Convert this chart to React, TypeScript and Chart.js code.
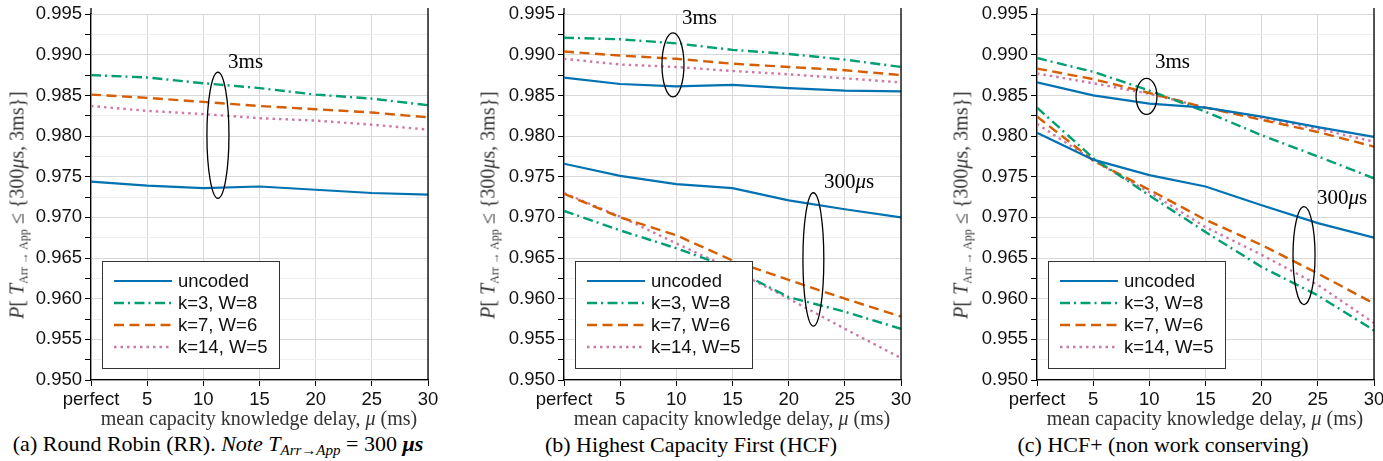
import React, { useEffect, useRef } from "react";
import { Chart, registerables } from "chart.js";
Chart.register(...registerables);

// ---------- data ----------
const delays = [0, 5, 10, 15, 20, 25, 30];
const seriesNames = ["uncoded", "k=3, W=8", "k=7, W=6", "k=14, W=5"];
const seriesColors = ["#0072B2", "#009E73", "#D55E00", "#CC79A7"];
const seriesDashes: number[][] = [[], [10, 4, 2, 4.5], [10, 5.5], [2.5, 4]];

// (a) Round Robin, 3ms
const rrUncoded = [0.9744, 0.9739, 0.9736, 0.9738, 0.9734, 0.973, 0.9728];
const rrK3 = [0.9875, 0.9872, 0.9865, 0.9859, 0.9851, 0.9846, 0.9838];
const rrK7 = [0.9851, 0.9847, 0.9842, 0.9837, 0.9833, 0.9829, 0.9823];
const rrK14 = [0.9837, 0.9831, 0.9827, 0.9822, 0.9819, 0.9814, 0.9808];

// (b) HCF, 3ms
const hcf3Uncoded = [0.9872, 0.9864, 0.9861, 0.9863, 0.9859, 0.9856, 0.9855];
const hcf3K3 = [0.9921, 0.9919, 0.9914, 0.9906, 0.9901, 0.9894, 0.9885];
const hcf3K7 = [0.9904, 0.9899, 0.9895, 0.9889, 0.9885, 0.9881, 0.9875];
const hcf3K14 = [0.9895, 0.9888, 0.9885, 0.988, 0.9876, 0.9871, 0.9866];
// (b) HCF, 300us
const hcf300Uncoded = [0.9766, 0.9751, 0.9741, 0.9736, 0.9721, 0.971, 0.97];
const hcf300K3 = [0.9708, 0.9684, 0.9662, 0.9637, 0.9602, 0.9584, 0.9563];
const hcf300K7 = [0.9729, 0.97, 0.9678, 0.9647, 0.9623, 0.96, 0.9578];
const hcf300K14 = [0.973, 0.9701, 0.9668, 0.9636, 0.96, 0.9563, 0.9527];

// (c) HCF+, 3ms
const hcfp3Uncoded = [0.9866, 0.985, 0.984, 0.9835, 0.9824, 0.9811, 0.9799];
const hcfp3K3 = [0.9896, 0.9879, 0.9856, 0.983, 0.9801, 0.9775, 0.9748];
const hcfp3K7 = [0.9883, 0.987, 0.9853, 0.9835, 0.982, 0.9805, 0.9787];
const hcfp3K14 = [0.9877, 0.9865, 0.9852, 0.9835, 0.9822, 0.9809, 0.9793];
// (c) HCF+, 300us
const hcfp300Uncoded = [0.9804, 0.9771, 0.9752, 0.9738, 0.9715, 0.9693, 0.9675];
const hcfp300K3 = [0.9835, 0.9773, 0.9727, 0.9682, 0.9639, 0.9604, 0.9561];
const hcfp300K7 = [0.9824, 0.977, 0.9734, 0.9697, 0.9666, 0.9631, 0.9594];
const hcfp300K14 = [0.9815, 0.977, 0.9731, 0.9688, 0.9654, 0.9617, 0.957];

// annotations (data coordinates)
type Ell = { x: number; y: number; rx: number; ry: number };
type Note = { x: number; y: number; text: string };
const rrEllipses: Ell[] = [{ x: 11.3, y: 0.9801, rx: 0.98, ry: 0.00775 }];
const rrNotes: Note[] = [{ x: 12.2, y: 0.989, text: "3ms" }];
const hcfEllipses: Ell[] = [
  { x: 9.7, y: 0.98876, rx: 0.98, ry: 0.00394 },
  { x: 22.2, y: 0.96483, rx: 0.93, ry: 0.0082 },
];
const hcfNotes: Note[] = [
  { x: 10.5, y: 0.9945, text: "3ms" },
  { x: 23.15, y: 0.97434, text: "300μs" },
];
const hcfpEllipses: Ell[] = [
  { x: 9.75, y: 0.98488, rx: 0.93, ry: 0.00221 },
  { x: 23.77, y: 0.9653, rx: 0.98, ry: 0.00603 },
];
const hcfpNotes: Note[] = [
  { x: 10.5, y: 0.989, text: "3ms" },
  { x: 24.93, y: 0.97237, text: "300μs" },
];

const SANS = "'Liberation Sans', Arial, sans-serif";
const SERIF = "'Liberation Serif', 'Times New Roman', serif";
const CANVAS_W = 460;
const PLOT_W = 428; // axis-left offset 91 + plot width 337

function makeDatasets(groups: number[][][]) {
  const ds: any[] = [];
  groups.forEach((group) => {
    group.forEach((vals, i) => {
      ds.push({
        label: seriesNames[i],
        data: delays.map((d, j) => ({ x: d, y: vals[j] })),
        borderColor: seriesColors[i],
        borderDash: seriesDashes[i],
        borderWidth: i === 0 ? 2.2 : 2.4,
        pointRadius: 0,
        tension: 0,
        fill: false,
        borderCapStyle: "butt",
      });
    });
  });
  return ds;
}

function drawNoteText(ctx: CanvasRenderingContext2D, text: string, x: number, y: number) {
  ctx.textBaseline = "middle";
  ctx.textAlign = "left";
  ctx.fillStyle = "#000";
  let cx = x;
  for (const ch of text) {
    ctx.font = ch === "μ" ? `italic 21px ${SERIF}` : `21px ${SERIF}`;
    ctx.fillText(ch, cx, y);
    cx += ctx.measureText(ch).width;
  }
}

function Panel(props: { left: number; groups: number[][][]; ellipses: Ell[]; notes: Note[] }) {
  const ref = useRef<HTMLCanvasElement>(null);
  useEffect(() => {
    const { groups, ellipses, notes } = props;
    const overlay = {
      id: "overlay",
      afterDatasetsDraw(chart: any) {
        const ctx: CanvasRenderingContext2D = chart.ctx;
        const a = chart.chartArea;
        const xs = chart.scales.x;
        const ys = chart.scales.y;
        ctx.save();
        ctx.strokeStyle = "#000";
        ctx.lineWidth = 1.3;
        ctx.beginPath();
        ctx.moveTo(a.right, a.top - 6);
        ctx.lineTo(a.right, a.bottom);
        ctx.moveTo(a.left, a.top - 6);
        ctx.lineTo(a.left, a.top);
        ctx.stroke();
        // legend box
        const bx = a.left + 11;
        const by = a.bottom - 119;
        ctx.fillStyle = "#fff";
        ctx.fillRect(bx, by, 177, 107);
        ctx.strokeStyle = "#333";
        ctx.lineWidth = 1;
        ctx.strokeRect(bx + 0.5, by + 0.5, 177, 107);
        seriesNames.forEach((name, i) => {
          const y = by + 20 + i * 22;
          ctx.beginPath();
          ctx.setLineDash(seriesDashes[i]);
          ctx.strokeStyle = seriesColors[i];
          ctx.lineWidth = i === 0 ? 2.2 : 2.4;
          ctx.moveTo(bx + 12, y);
          ctx.lineTo(bx + 70, y);
          ctx.stroke();
          ctx.setLineDash([]);
          ctx.fillStyle = "#111";
          ctx.font = `18.5px ${SANS}`;
          ctx.textBaseline = "middle";
          ctx.textAlign = "left";
          ctx.fillText(name, bx + 76, y + 1);
        });
        // ellipses
        ctx.strokeStyle = "#000";
        ctx.lineWidth = 1.3;
        ellipses.forEach((e) => {
          const cx = xs.getPixelForValue(e.x);
          const cy = ys.getPixelForValue(e.y);
          const rx = Math.abs(xs.getPixelForValue(e.x + e.rx) - cx);
          const ry = Math.abs(ys.getPixelForValue(e.y + e.ry) - cy);
          ctx.beginPath();
          ctx.ellipse(cx, cy, rx, ry, 0, 0, Math.PI * 2);
          ctx.stroke();
        });
        notes.forEach((n) => {
          drawNoteText(ctx, n.text, xs.getPixelForValue(n.x), ys.getPixelForValue(n.y));
        });
        ctx.restore();
      },
    };
    const isMajor = (v: number) => Math.abs(v * 200 - Math.round(v * 200)) < 1e-6;
    const chart = new Chart(ref.current!, {
      type: "line",
      data: { datasets: makeDatasets(groups) },
      options: {
        responsive: false,
        animation: false,
        layout: { padding: { left: 0, right: CANVAS_W - PLOT_W, top: 14, bottom: 0 } },
        plugins: { legend: { display: false }, tooltip: { enabled: false } },
        scales: {
          x: {
            type: "linear",
            min: 0,
            max: 30,
            afterFit: (s: any) => {
              s.height = 35;
            },
            ticks: {
              stepSize: 5,
              autoSkip: false,
              maxRotation: 0,
              padding: 3,
              color: "#111",
              font: { family: SANS, size: 18.5 },
              callback: (v: any) => (v === 0 ? "perfect" : String(v)),
            },
            grid: { color: "#d8d8d8", lineWidth: 1, tickLength: 6, tickColor: "#000" },
            border: { color: "#000", width: 1.3 },
          },
          y: {
            type: "linear",
            min: 0.95,
            max: 0.995,
            afterFit: (s: any) => {
              s.width = 91;
            },
            ticks: {
              stepSize: 0.0025,
              autoSkip: false,
              padding: 3,
              color: "#111",
              font: { family: SANS, size: 18.5 },
              callback: (v: any) => (isMajor(Number(v)) ? Number(v).toFixed(3) : ""),
            },
            grid: {
              color: (c: any) => (c.tick && isMajor(c.tick.value) ? "#d8d8d8" : "#eeeeee"),
              lineWidth: 1,
              tickLength: 6,
              tickColor: "#000",
            },
            border: { color: "#000", width: 1.3 },
          },
        },
      } as any,
      plugins: [overlay],
    });
    return () => chart.destroy();
  }, []);
  return (
    <canvas
      ref={ref}
      width={CANVAS_W}
      height={415}
      style={{ position: "absolute", left: props.left, top: 0, width: CANVAS_W, height: 415 }}
    />
  );
}

const abs = (x: number, y: number, extra: any = {}): React.CSSProperties => ({
  position: "absolute",
  left: x,
  top: y,
  transform: "translate(-50%, -50%)",
  whiteSpace: "nowrap",
  ...extra,
});

function YLabel({ x }: { x: number }) {
  return (
    <div style={abs(x, 205, { transform: "translate(-50%, -50%) rotate(-90deg)", fontFamily: SERIF, fontSize: 20, color: "#333", lineHeight: "24px" })}>
      <i>P</i>[ <i>T</i>
      <span style={{ fontSize: 12, position: "relative", top: 4 }}>Arr → App</span> ≤ {"{"}300<i>μ</i>s, 3ms{"}"}]
    </div>
  );
}

function XLabel({ x }: { x: number }) {
  return (
    <div style={abs(x, 418, { fontFamily: SERIF, fontSize: 20, color: "#333", lineHeight: "24px" })}>
      mean capacity knowledge delay, <i>μ</i> (ms)
    </div>
  );
}

export default function App() {
  return (
    <div style={{ position: "absolute", left: 0, top: 0, width: 1383, height: 461, background: "#fff", overflow: "hidden" }}>
      <Panel left={0} groups={[[rrUncoded, rrK3, rrK7, rrK14]]} ellipses={rrEllipses} notes={rrNotes} />
      <Panel
        left={473}
        groups={[
          [hcf3Uncoded, hcf3K3, hcf3K7, hcf3K14],
          [hcf300Uncoded, hcf300K3, hcf300K7, hcf300K14],
        ]}
        ellipses={hcfEllipses}
        notes={hcfNotes}
      />
      <Panel
        left={946}
        groups={[
          [hcfp3Uncoded, hcfp3K3, hcfp3K7, hcfp3K14],
          [hcfp300Uncoded, hcfp300K3, hcfp300K7, hcfp300K14],
        ]}
        ellipses={hcfpEllipses}
        notes={hcfpNotes}
      />
      <YLabel x={18} />
      <YLabel x={489} />
      <YLabel x={962} />
      <XLabel x={259} />
      <XLabel x={732} />
      <XLabel x={1205} />
      <div style={abs(218, 445, { fontFamily: SERIF, fontSize: 22, color: "#000", lineHeight: "26px" })}>
        (a) Round Robin (RR). <i>Note T</i>
        <span style={{ fontSize: 15, position: "relative", top: 4, fontStyle: "italic" }}>Arr→App</span> = 300 <b><i>μs</i></b>
      </div>
      <div style={abs(691, 445, { fontFamily: SERIF, fontSize: 22, color: "#000", lineHeight: "26px" })}>
        (b) Highest Capacity First (HCF)
      </div>
      <div style={abs(1163, 445, { fontFamily: SERIF, fontSize: 22, color: "#000", lineHeight: "26px" })}>
        (c) HCF+ (non work conserving)
      </div>
    </div>
  );
}
